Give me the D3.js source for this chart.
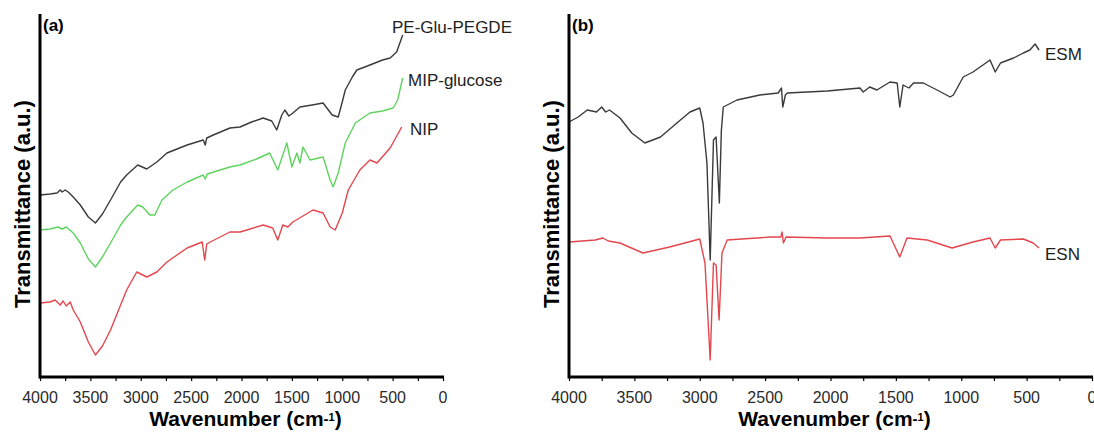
<!DOCTYPE html>
<meta charset="utf-8">
<style>
body { margin: 0; background: #fff; }
svg text { font-family: "Liberation Sans", Arial, sans-serif; }
.axis path, .axis line { stroke: #000; }
</style>
<script src="https://d3js.org/d3.v7.min.js"></script>
<body>
<div id="chart"></div>
<script>
// tick labels of the wavenumber axis
var xTicks = [4000, 3500, 3000, 2500, 2000, 1500, 1000, 500, 0];

// panel (a): [wavenumber, transmittance a.u.]
var peGluPegde = [[4000,182],[3900,183],[3830,184],[3800,187],[3780,185],[3750,187],[3720,185],[3670,180],[3600,172],[3520,160],[3450,154],[3380,163],[3300,177],[3200,195],[3140,202],[3030,212],[2940,208],[2840,215],[2740,224],[2640,228],[2540,232],[2380,237],[2360,232],[2345,239],[2280,242],[2115,249],[2015,250],[1900,255],[1785,259],[1700,256],[1650,247],[1600,262],[1570,267],[1530,261],[1490,264],[1420,270],[1300,272],[1190,274],[1100,262],[1040,260],[1000,275],[970,287],[900,300],[855,307],[725,312],[600,317],[525,319],[460,325],[400,342]];
var mipGlucose = [[4000,147],[3900,148],[3820,150],[3780,148],[3740,150],[3670,144],[3600,134],[3520,118],[3450,110],[3380,120],[3300,134],[3200,152],[3140,160],[3030,172],[2980,170],[2910,162],[2860,162],[2790,177],[2680,187],[2540,195],[2380,202],[2360,198],[2340,203],[2115,210],[2015,212],[1850,218],[1720,224],[1640,207],[1550,234],[1500,210],[1450,224],[1420,214],[1390,230],[1320,217],[1190,220],[1120,197],[1090,190],[1040,204],[970,234],[870,254],[725,264],[600,266],[495,269],[450,277],[400,299]];
var nip = [[4000,74],[3900,75],[3850,77],[3800,72],[3770,76],[3740,71],[3700,75],[3670,67],[3600,55],[3520,35],[3450,22],[3380,31],[3300,47],[3200,72],[3140,87],[3040,105],[2940,100],[2840,105],[2740,115],[2540,129],[2390,135],[2365,117],[2345,133],[2310,135],[2115,145],[2015,145],[1785,152],[1690,149],[1640,137],[1590,152],[1540,150],[1490,155],[1290,167],[1190,164],[1120,150],[1070,147],[1000,164],[940,187],[825,207],[725,217],[655,214],[525,229],[410,250]];

// panel (b)
var esm = [[4000,255],[3930,260],[3860,267],[3790,265],[3750,270],[3720,265],[3690,267],[3610,259],[3520,244],[3420,234],[3300,240],[3175,254],[3075,265],[3000,269],[2975,254],[2945,214],[2920,117],[2895,237],[2875,240],[2850,174],[2835,246],[2820,270],[2715,277],[2540,282],[2400,284],[2375,289],[2365,270],[2345,282],[2330,284],[2025,286],[1775,289],[1750,285],[1700,290],[1645,287],[1545,295],[1490,294],[1470,270],[1445,292],[1400,289],[1365,294],[1290,294],[1185,287],[1085,280],[1060,282],[985,300],[910,305],[780,317],[740,305],[700,314],[600,319],[525,324],[475,327],[435,333],[405,327]];
var esn = [[4000,135],[3900,136],[3800,137],[3740,139],[3700,136],[3610,134],[3435,124],[3230,130],[3000,138],[2960,114],[2920,17],[2895,114],[2875,112],[2852,57],[2830,124],[2790,137],[2460,140],[2380,140],[2370,145],[2360,134],[2340,140],[2025,139],[1775,139],[1545,141],[1470,120],[1415,139],[1260,137],[1070,129],[910,135],[780,139],[740,129],[700,137],[525,138],[450,134],[405,129]];

var width = 1094, height = 432;
var yTop = 14, yBot = 377;

var svg = d3.select("#chart").append("svg")
    .attr("width", width)
    .attr("height", height);

var y = d3.scaleLinear().domain([0, 363]).range([yBot, yTop]);

function panel(x0, x1, tag, series, labels) {
  var x = d3.scaleLinear().domain([4000, 0]).range([x0, x1]);
  var g = svg.append("g");

  var line = d3.line()
      .x(function(d) { return x(d[0]); })
      .y(function(d) { return y(d[1]); });

  series.forEach(function(s) {
    g.append("path")
        .datum(s.data)
        .attr("fill", "none")
        .attr("stroke", s.color)
        .attr("stroke-width", 1.4)
        .attr("stroke-linejoin", "round")
        .attr("d", line);
  });

  // minor + major ticks, pointing down
  g.append("g")
      .attr("class", "axis")
      .attr("transform", "translate(0," + yBot + ")")
      .call(d3.axisBottom(x).tickValues(d3.range(0, 4001, 250)).tickSize(4).tickFormat(""))
      .call(function(a) { a.select(".domain").remove(); a.selectAll("line").attr("stroke-width", 1.2); });

  g.selectAll(".tlab")
    .data(xTicks)
    .enter().append("text")
      .attr("x", function(d) { return x(d); })
      .attr("y", 403)
      .attr("text-anchor", "middle")
      .attr("font-size", 16)
      .attr("fill", "#2a2a2a")
      .text(function(d) { return d; });

  g.append("line").attr("x1", x0).attr("x2", x1 + 1).attr("y1", yBot).attr("y2", yBot)
      .attr("stroke", "#000").attr("stroke-width", 3);
  g.append("line").attr("x1", x0).attr("x2", x0).attr("y1", yTop).attr("y2", yBot + 1.5)
      .attr("stroke", "#000").attr("stroke-width", 3);

  g.append("text")
      .attr("x", x0 + 3).attr("y", 31)
      .attr("font-size", 17).attr("font-weight", "bold")
      .text(tag);

  var title = g.append("text")
      .attr("x", (x0 + x1) / 2 + 4).attr("y", 426)
      .attr("text-anchor", "middle")
      .attr("font-size", 21).attr("font-weight", "bold")
      .text("Wavenumber (cm");
  title.append("tspan").text("-").attr("font-size", 15).attr("dy", -2);
  title.append("tspan").text("1").attr("font-size", 11).attr("dy", -3);
  title.append("tspan").text(")").attr("dy", 5);

  g.append("text")
      .attr("transform", "translate(" + (x0 - 10) + ",204) rotate(-90)")
      .attr("text-anchor", "middle")
      .attr("font-size", 22).attr("font-weight", "bold")
      .text("Transmittance (a.u.)");

  labels.forEach(function(l) {
    g.append("text")
        .attr("x", l.x).attr("y", l.y)
        .attr("font-size", 17)
        .attr("fill", "#222")
        .text(l.text);
  });
}

panel(40, 443, "(a)",
  [{data: peGluPegde, color: "#3a3a3a"},
   {data: mipGlucose, color: "#5fd35f"},
   {data: nip, color: "#e3474d"}],
  [{text: "PE-Glu-PEGDE", x: 392, y: 33},
   {text: "MIP-glucose", x: 408, y: 86},
   {text: "NIP", x: 410, y: 135}]);

panel(569, 1092, "(b)",
  [{data: esm, color: "#3a3a3a"},
   {data: esn, color: "#e3474d"}],
  [{text: "ESM", x: 1045, y: 60},
   {text: "ESN", x: 1045, y: 260}]);
</script>
</body>
